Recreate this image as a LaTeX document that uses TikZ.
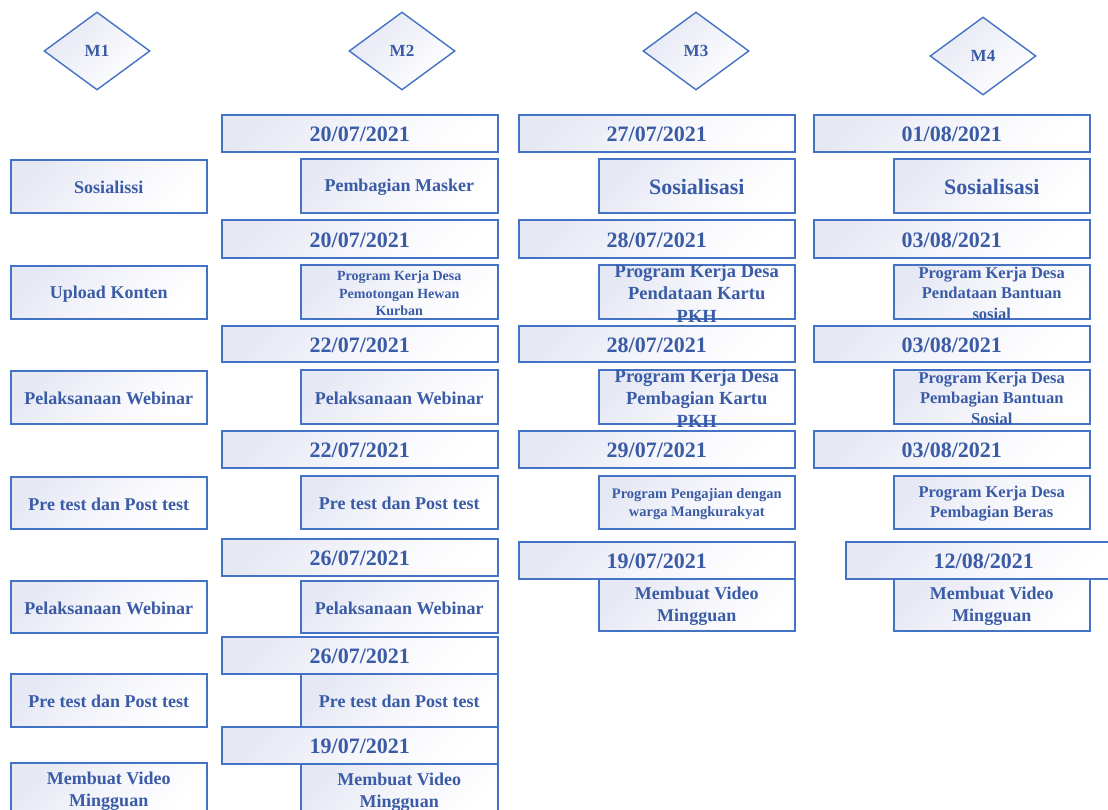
\documentclass[tikz,border=0pt]{standalone}
\usepackage{fontspec}
\setmainfont{Liberation Serif}
\usetikzlibrary{shapes.geometric}
\definecolor{bordc}{HTML}{4472C4}
\definecolor{txtc}{HTML}{3A5BA6}
\definecolor{shadec}{HTML}{E6E8F4}
\newcommand\fsz[1]{\fontsize{#1}{\fpeval{1.22*#1}}\selectfont\bfseries}
\tikzset{
  x=1pt, y=-1pt,
  bxs/.style={draw=bordc, line width=1.5pt, anchor=north west, inner sep=0pt,
    top color=shadec, bottom color=white, middle color=white!60!shadec, shading angle=45},
  txs/.style={text=txtc, align=center, inner sep=0pt},
  dms/.style={diamond, draw=bordc, line width=1.4pt, inner sep=0pt,
    minimum width=106pt, minimum height=78pt,
    top color=shadec, bottom color=white, shading angle=45,
    text=txtc, font=\fsz{17}},
}
% \bx{name}{x}{y}{w}{h}{font size}{text}
\newcommand\bx[7]{%
  \node[bxs, minimum width=#4pt, minimum height=#5pt] (#1) at (#2,#3) {};
  \node[txs, font=\fsz{#6}] (#1t) at ([yshift=-1.5pt]#1.center) {#7};}
\begin{document}
\begin{tikzpicture}
\useasboundingbox (0,0) rectangle (1108,809);
% diamonds
\node[dms] (m1) at (97,51) {M1};
\node[dms] (m2) at (402,51) {M2};
\node[dms] (m3) at (696,51) {M3};
\node[dms] (m4) at (983,56) {M4};
% column M1
\bx{a1}{10}{159}{196}{53}{18}{Sosialissi}
\bx{a2}{10}{265}{196}{53}{18}{Upload Konten}
\bx{a3}{10}{370}{196}{53}{18}{Pelaksanaan Webinar}
\bx{a4}{10}{476}{196}{52}{18}{Pre test dan Post test}
\bx{a5}{10}{580}{196}{52}{18}{Pelaksanaan Webinar}
\bx{a6}{10}{673}{196}{53}{18}{Pre test dan Post test}
\bx{a7}{10}{762}{196}{53}{18}{Membuat Video\\Mingguan}
% column M2
\bx{bd1}{221}{114}{276}{37}{22}{20/07/2021}
\bx{bb1}{300}{158}{197}{54}{18}{Pembagian Masker}
\bx{bd2}{221}{219}{276}{38}{22}{20/07/2021}
\bx{bb2}{300}{264}{197}{54}{14}{Program Kerja Desa\\Pemotongan Hewan\\Kurban}
\bx{bd3}{221}{325}{276}{36}{22}{22/07/2021}
\bx{bb3}{300}{369}{197}{54}{18}{Pelaksanaan Webinar}
\bx{bd4}{221}{430}{276}{37}{22}{22/07/2021}
\bx{bb4}{300}{475}{197}{53}{18}{Pre test dan Post test}
\bx{bd5}{221}{538}{276}{37}{22}{26/07/2021}
\bx{bb5}{300}{580}{197}{52}{18}{Pelaksanaan Webinar}
\bx{bd6}{221}{636}{276}{37}{22}{26/07/2021}
\bx{bb6}{300}{673}{197}{53}{18}{Pre test dan Post test}
\bx{bd7}{221}{726}{276}{37}{22}{19/07/2021}
\bx{bb7}{300}{763}{197}{53}{18}{Membuat Video\\Mingguan}
% column M3
\bx{cd1}{518}{114}{276}{37}{22}{27/07/2021}
\bx{cb1}{598}{158}{196}{54}{22}{Sosialisasi}
\bx{cd2}{518}{219}{276}{38}{22}{28/07/2021}
\bx{cb2}{598}{264}{196}{54}{18.5}{Program Kerja Desa\\Pendataan Kartu\\PKH}
\bx{cd3}{518}{325}{276}{36}{22}{28/07/2021}
\bx{cb3}{598}{369}{196}{54}{18.5}{Program Kerja Desa\\Pembagian Kartu\\PKH}
\bx{cd4}{518}{430}{276}{37}{22}{29/07/2021}
\bx{cb4}{598}{475}{196}{53}{14.5}{Program Pengajian dengan\\warga Mangkurakyat}
\bx{cd5}{518}{541}{276}{37}{22}{19/07/2021}
\bx{cb5}{598}{578}{196}{52}{18}{Membuat Video\\Mingguan}
% column M4
\bx{dd1}{813}{114}{276}{37}{22}{01/08/2021}
\bx{db1}{893}{158}{196}{54}{22}{Sosialisasi}
\bx{dd2}{813}{219}{276}{38}{22}{03/08/2021}
\bx{db2}{893}{264}{196}{54}{16.5}{Program Kerja Desa\\Pendataan Bantuan\\sosial}
\bx{dd3}{813}{325}{276}{36}{22}{03/08/2021}
\bx{db3}{893}{369}{196}{54}{16.5}{Program Kerja Desa\\Pembagian Bantuan\\Sosial}
\bx{dd4}{813}{430}{276}{37}{22}{03/08/2021}
\bx{db4}{893}{475}{196}{53}{16.5}{Program Kerja Desa\\Pembagian Beras}
\bx{dd5}{845}{541}{276}{37}{22}{12/08/2021}
\bx{db5}{893}{578}{196}{52}{18}{Membuat Video\\Mingguan}
\end{tikzpicture}
\end{document}
